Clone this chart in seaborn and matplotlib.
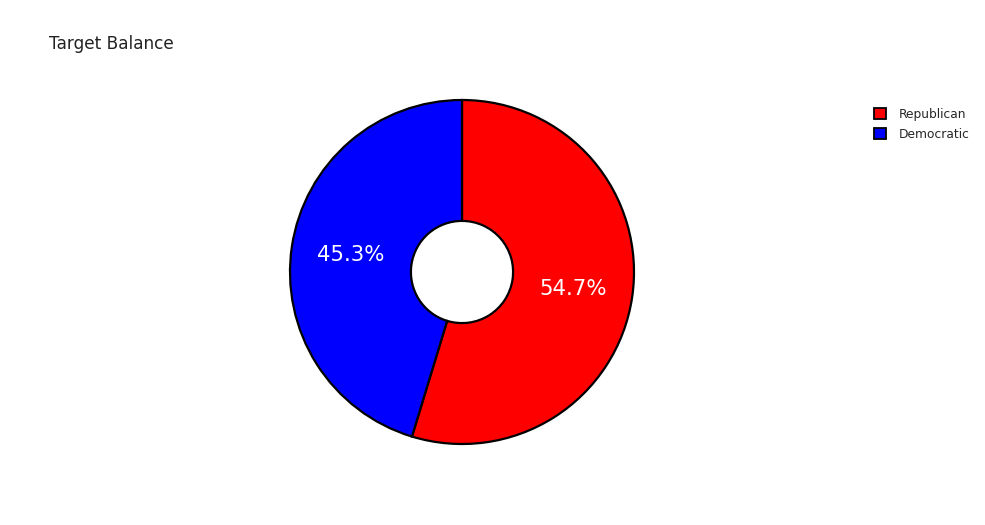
import matplotlib
matplotlib.use("Agg")
import matplotlib.pyplot as plt
from matplotlib.patches import Patch
import seaborn as sns

labels = ["Republican", "Democratic"]
values = [54.7, 45.3]
colors = ["#ff0000", "#0000ff"]
title = "Target Balance"

sns.set_theme(style="white")
plt.rcParams['font.family'] = ['DejaVu Sans']

W, H = 985, 525
fig = plt.figure(figsize=(W / 100, H / 100), dpi=100)
cx, cy, r = 462, 272, 172
ax = fig.add_axes([(cx - r) / W, (H - cy - r) / H, 2 * r / W, 2 * r / H])
wedges, texts, autotexts = ax.pie(
    values, colors=colors, startangle=90, counterclock=False,
    autopct="%1.1f%%", pctdistance=0.655, radius=1.0,
    wedgeprops=dict(width=1 - 0.297, edgecolor="black", linewidth=1.6),
    textprops=dict(color="white", fontsize=15.3),
)
ax.set_xlim(-1, 1)
ax.set_ylim(-1, 1)
ax.set_aspect("equal")
ax.axis("off")

fig.text(49 / W, 1 - 44 / H, title, fontsize=12.2, color="#222222", va="center", ha="left")

handles = [Patch(facecolor=c, edgecolor="black", linewidth=1.3, label=l) for c, l in zip(colors, labels)]
leg = fig.legend(handles=handles, loc="upper left", bbox_to_anchor=(874 / W, 1 - 108 / H),
                 frameon=False, fontsize=8.8, handlelength=1.0, handleheight=1.0,
                 handletextpad=1.0, labelspacing=0.55, borderpad=0, borderaxespad=0)

fig.savefig("out.png", dpi=100)
